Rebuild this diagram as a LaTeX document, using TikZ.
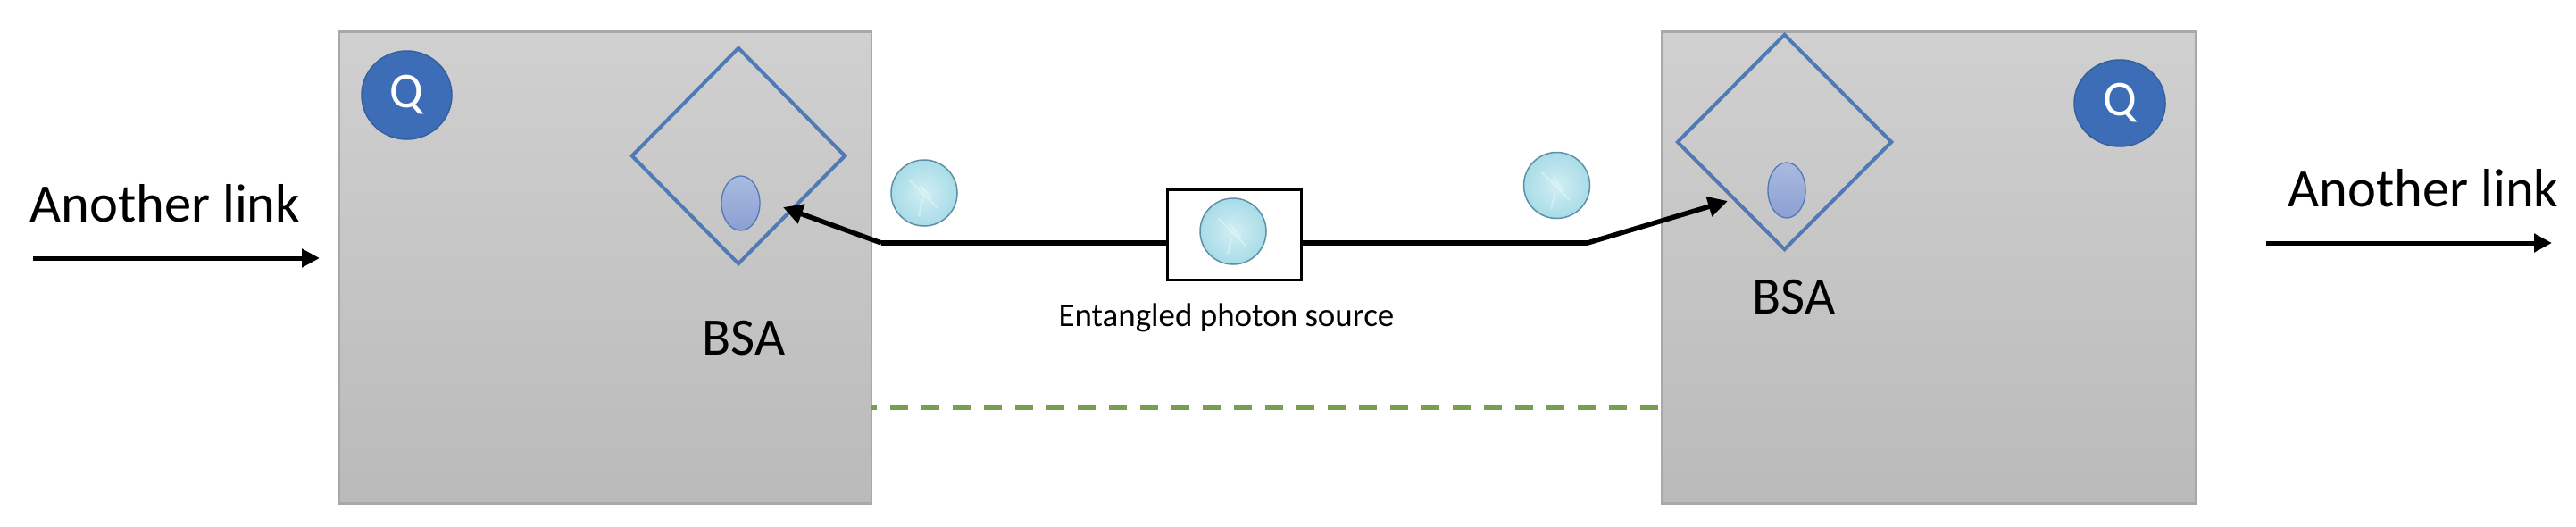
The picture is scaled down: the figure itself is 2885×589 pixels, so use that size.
\documentclass[tikz,border=0pt]{standalone}
\usepackage{fontspec}
\setmainfont{Carlito}
\usetikzlibrary{shapes.geometric,arrows.meta}
\definecolor{boxedge}{HTML}{A8A8A8}
\definecolor{boxtop}{HTML}{D0D0D0}
\definecolor{boxbot}{HTML}{BABABA}
\definecolor{qblue}{HTML}{3E6DB8}
\definecolor{qedge}{HTML}{34609F}
\definecolor{bsaedge}{HTML}{5079B5}
\definecolor{innertop}{HTML}{A9BBE0}
\definecolor{innerbot}{HTML}{8C9FD2}
\definecolor{photonout}{HTML}{5F8FA6}
\definecolor{photonin}{HTML}{D2EEF3}
\definecolor{photonmid}{HTML}{A8DCE8}
\definecolor{dashgreen}{HTML}{7A9E50}
\tikzset{
  x=1pt,y=-1pt,
  station/.style={draw=boxedge,line width=2.5pt,top color=boxtop,bottom color=boxbot,minimum width=#1,minimum height=528,inner sep=0},
  qubit/.style={ellipse,draw=qedge,line width=1.5pt,fill=qblue,text=white,inner sep=0,font=\fontsize{56}{60}\selectfont},
  bsashape/.style={diamond,draw=bsaedge,line width=4pt,aspect=1,inner sep=0},
  innerdot/.style={ellipse,draw=bsaedge,line width=1.3pt,top color=innertop,bottom color=innerbot,inner sep=0},
  photon/.style={ellipse,draw=photonout,line width=1.5pt,inner color=photonin,outer color=photonmid,minimum width=74,minimum height=74,inner sep=0},
  shine/.style={white,opacity=.3,line width=2.2pt,line cap=round},
  label/.style={inner sep=0,text=black},
  biglabel/.style={label,font=\fontsize{60.5}{64}\selectfont},
  bsalabel/.style={label,font=\fontsize{59}{64}\selectfont},
  smalllabel/.style={label,font=\fontsize{37}{42}\selectfont},
  wire/.style={draw=black,line width=5.5pt},
  linkarrow/.style={draw=black,line width=5pt,-{Triangle[length=20pt,width=20pt]}},
  wirearrow/.style={draw=black,line width=5.5pt,-{Triangle[length=22pt,width=22pt]}},
  classical/.style={draw=dashgreen,line width=6pt,dash pattern=on 20pt off 15pt,dash phase=14pt},
  srcbox/.style={draw=black,line width=3pt,fill=white,minimum width=150,minimum height=101,inner sep=0}
}
\newcommand{\photonshine}[1]{%
  \draw[shine] ([xshift=-16,yshift=14]#1.center) -- ([xshift=14,yshift=-16]#1.center);
  \draw[shine] ([xshift=-4,yshift=8]#1.center) -- ([xshift=8,yshift=-6]#1.center);
  \draw[shine] ([xshift=-6,yshift=-26]#1.center) -- ([xshift=-2,yshift=-8]#1.center);
}
\begin{document}
\begin{tikzpicture}
\useasboundingbox (0,0) rectangle (2885,589);
% stations
\node[station=596] (stL) at (678,299.5) {};
\node[station=598] (stR) at (2160,299.5) {};
% left station content
\node[qubit,minimum width=101,minimum height=99] (qL) at (455.5,106.5) {Q};
\node[bsashape,minimum width=240,minimum height=243] (bsaL) at (827,174.5) {};
\node[innerdot,minimum width=43,minimum height=61] (dotL) at (829.5,227.5) {};
\node[bsalabel] (txtBsaL) at (833,379) {BSA};
% right station content
\node[qubit,minimum width=102,minimum height=97] (qR) at (2374,115.5) {Q};
\node[bsashape,minimum width=241,minimum height=242] (bsaR) at (1998.5,159) {};
\node[innerdot,minimum width=42,minimum height=62] (dotR) at (2001,213) {};
\node[bsalabel] (txtBsaR) at (2009,333) {BSA};
% source
\node[srcbox] (src) at (1382,262.5) {};
\node[photon] (phS) at (1381,259) {};
\photonshine{phS}
\node[smalllabel] (txtSrc) at (1373.5,356) {Entangled photon source};
% flying photons
\node[photon] (phL) at (1035,216) {};
\photonshine{phL}
\node[photon] (phR) at (1743.5,207.5) {};
\photonshine{phR}
% wires
\coordinate (bendL) at (987,272);
\coordinate (tipL) at (877,232);
\coordinate (bendR) at (1778,272);
\coordinate (tipR) at (1935,225);
\draw[wire,line cap=butt] (src.west |- bendL) -- (bendL);
\draw[wirearrow] (bendL) -- (tipL);
\draw[wire] (src.east |- bendR) -- (bendR);
\draw[wirearrow] (bendR) -- (tipR);
% classical channel
\coordinate (dashL) at (976,456);
\coordinate (dashR) at (1861,456);
\draw[classical] (dashL) -- (dashR);
% other links
\node[biglabel] (txtLinkL) at (185,228) {Another link};
\node[biglabel] (txtLinkR) at (2714,211) {Another link};
\coordinate (linkLa) at (37,289);
\coordinate (linkLb) at (358,289);
\coordinate (linkRa) at (2538,272);
\coordinate (linkRb) at (2858,272);
\draw[linkarrow] (linkLa) -- (linkLb);
\draw[linkarrow] (linkRa) -- (linkRb);
\end{tikzpicture}
\end{document}
